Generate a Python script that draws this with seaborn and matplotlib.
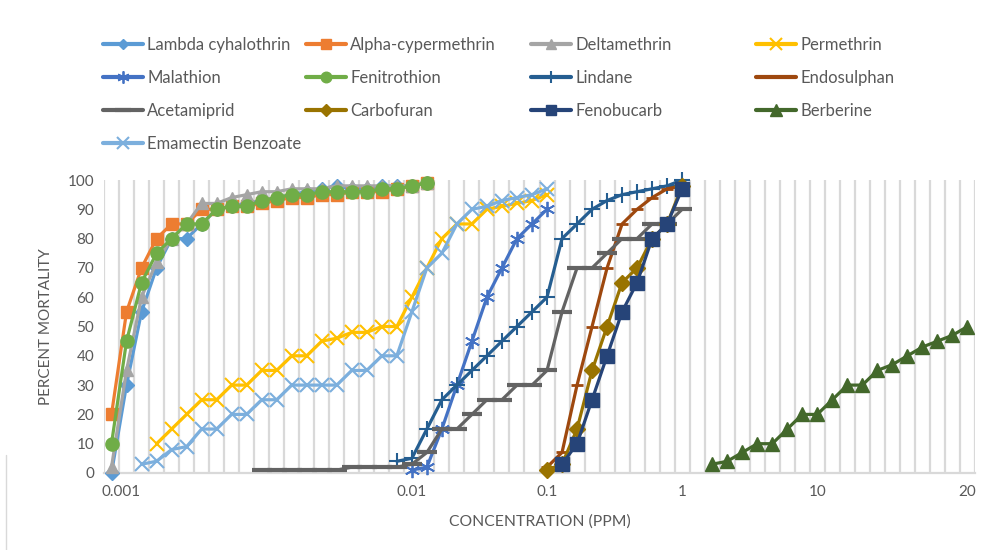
import numpy as np
import matplotlib
matplotlib.use("Agg")
import matplotlib.pyplot as plt
import seaborn as sns
from matplotlib.lines import Line2D

# ---------------- data (category index of first point + values) ----------------
lambda_start = 0
lambda_values = [0, 30, 55, 70, 80, 80, 85, 90, 91, 92, 93, 94, 95, 96, 97, 98, 97, 97, 98, 98, 98, 99]
alpha_start = 0
alpha_values = [20, 55, 70, 80, 85, 85, 90, 90, 91, 91, 92, 93, 94, 94, 95, 95, 96, 96, 96, 97, 98, 99]
delta_start = 0
delta_values = [2, 35, 60, 72, 80, 85, 92, 92, 94, 95, 96, 96, 97, 97, 97, 98, 98, 98, 98, 98, 98, 99]
permethrin_start = 3
permethrin_values = [10, 15, 20, 25, 25, 30, 30, 35, 35, 40, 40, 45, 46, 48, 48, 50, 50,
                     60, 70, 80, 85, 85, 90, 91, 92, 93, 95]
malathion_start = 20
malathion_values = [1, 2, 15, 30, 45, 60, 70, 80, 85, 90]
fenitrothion_start = 0
fenitrothion_values = [10, 45, 65, 75, 80, 85, 85, 90, 91, 91, 93, 94, 95, 95, 96, 96, 96, 96, 97, 97, 98, 99]
lindane_start = 19
lindane_values = [4, 5, 15, 25, 30, 35, 40, 45, 50, 55, 60, 80, 85, 90, 93, 95, 96, 97, 98, 100]
endosulphan_start = 29
endosulphan_values = [2, 7, 30, 50, 70, 85, 90, 94, 97, 98]
acetamiprid_start = 10
acetamiprid_values = [1, 1, 1, 1, 1, 1, 2, 2, 2, 2, 3, 7, 15, 15, 20, 25, 25, 30, 30, 35,
                      55, 70, 70, 75, 80, 80, 85, 85, 90]
carbofuran_start = 29
carbofuran_values = [1, 3, 15, 35, 50, 65, 70, 80, 85, 98]
fenobucarb_start = 30
fenobucarb_values = [3, 10, 25, 40, 55, 65, 80, 85, 97]
berberine_start = 40
berberine_values = [3, 4, 7, 10, 10, 15, 20, 20, 25, 30, 30, 35, 37, 40, 43, 45, 47, 50]
emamectin_start = 2
emamectin_values = [3, 4, 8, 9, 15, 15, 20, 20, 25, 25, 30, 30, 30, 30, 35, 35, 40, 40,
                    55, 70, 75, 85, 90, 91, 93, 94, 95, 97]

n_categories = 58
x_tick_positions = [0.65, 20, 29, 38, 47, 57]
x_tick_labels = ["0.001", "0.01", "0.1", "1", "10", "20"]
y_ticks = list(range(0, 101, 10))

# name, start, values, color, marker, markersize, markeredgewidth
series = [
    ("Lambda cyhalothrin", lambda_start, lambda_values, "#5B9BD5", "D", 7, 1.0),
    ("Alpha-cypermethrin", alpha_start, alpha_values, "#ED7D31", "s", 8.5, 1.0),
    ("Deltamethrin", delta_start, delta_values, "#A5A5A5", "^", 9, 1.0),
    ("Permethrin", permethrin_start, permethrin_values, "#FFC000", "x", 10, 1.5),
    ("Malathion", malathion_start, malathion_values, "#4472C4", (6, 2, 0), 11, 1.3),
    ("Fenitrothion", fenitrothion_start, fenitrothion_values, "#70AD47", "o", 9.5, 1.0),
    ("Lindane", lindane_start, lindane_values, "#255E91", "+", 11, 1.5),
    ("Endosulphan", endosulphan_start, endosulphan_values, "#9E480E", "_", 8, 2.0),
    ("Acetamiprid", acetamiprid_start, acetamiprid_values, "#636363", "_", 14, 3.0),
    ("Carbofuran", carbofuran_start, carbofuran_values, "#997300", "D", 8, 1.0),
    ("Fenobucarb", fenobucarb_start, fenobucarb_values, "#264478", "s", 9.5, 1.0),
    ("Berberine", berberine_start, berberine_values, "#43682B", "^", 10, 1.0),
    ("Emamectin Benzoate", emamectin_start, emamectin_values, "#7CAFDD", "x", 10, 1.5),
]

sns.set_theme(style="white")
plt.rcParams["font.family"] = ["Lato", "DejaVu Sans"]
text_color = "#595959"
grid_color = "#D9D9D9"

W, H = 987, 550
fig = plt.figure(figsize=(W / 100, H / 100), dpi=100)
fig.patch.set_facecolor("white")
ax = fig.add_axes([104 / W, (H - 473) / H, (975 - 104) / W, (473 - 180) / H])

handles = {}
for i, (name, start, vals, color, marker, ms, mew) in enumerate(series):
    x = np.arange(start, start + len(vals))
    sns.lineplot(x=x, y=vals, ax=ax, color=color, marker=marker, markersize=ms,
                 markeredgewidth=mew, markeredgecolor=color, markerfacecolor=color,
                 linewidth=2.3, errorbar=None, legend=False, clip_on=False,
                 zorder=3 + i)
    handles[name] = Line2D([], [], color=color, marker=marker, markersize=ms * 0.8,
                           markeredgewidth=mew, markeredgecolor=color,
                           markerfacecolor=color, linewidth=3)

ax.set_xlim(-0.5, n_categories - 0.5)
ax.set_ylim(0, 100)
ax.set_xticks(x_tick_positions)
ax.set_xticklabels(x_tick_labels)
ax.set_xticks(np.arange(-0.5, n_categories, 1), minor=True)
ax.set_yticks(y_ticks)
ax.grid(False)
ax.grid(True, which="minor", axis="x", color=grid_color, linewidth=1.6, zorder=0)
ax.set_axisbelow(True)
for s in ["left", "top", "right"]:
    ax.spines[s].set_visible(False)
ax.spines["bottom"].set_color(grid_color)
ax.spines["bottom"].set_linewidth(1.6)
ax.tick_params(axis="both", which="both", length=0, colors=text_color, labelsize=11)
ax.tick_params(axis="x", pad=9)
ax.tick_params(axis="y", pad=7)

ax.set_ylabel("PERCENT MORTALITY", color=text_color, fontsize=11)
ax.yaxis.set_label_coords((53 - 104) / (975 - 104), 0.5)
ax.set_xlabel("CONCENTRATION (PPM)", color=text_color, fontsize=11.3)
ax.xaxis.set_label_coords((540 - 104) / (975 - 104), (473 - 514) / (473 - 180))

# legend: four columns (Excel layout, row-major order)
columns = [
    ["Lambda cyhalothrin", "Malathion", "Acetamiprid", "Emamectin Benzoate"],
    ["Alpha-cypermethrin", "Fenitrothion", "Carbofuran"],
    ["Deltamethrin", "Lindane", "Fenobucarb"],
    ["Permethrin", "Endosulphan", "Berberine"],
]
col_x = [103, 306, 531, 756]
for cx, names in zip(col_x, columns):
    leg = fig.legend([handles[n] for n in names], names, loc="upper left",
                     bbox_to_anchor=(cx / W, 1 - 37 / H), bbox_transform=fig.transFigure,
                     frameon=False, borderpad=0, borderaxespad=0, handlelength=2.4,
                     handletextpad=0.25, labelspacing=1.02, fontsize=12)
    for t in leg.get_texts():
        t.set_color(text_color)

# faint chart-area border fragment at left
fig.add_artist(Line2D([6 / W, 6 / W], [0, 95 / H], color=grid_color, linewidth=1.0))

fig.savefig("out.png", dpi=100, facecolor="white")
